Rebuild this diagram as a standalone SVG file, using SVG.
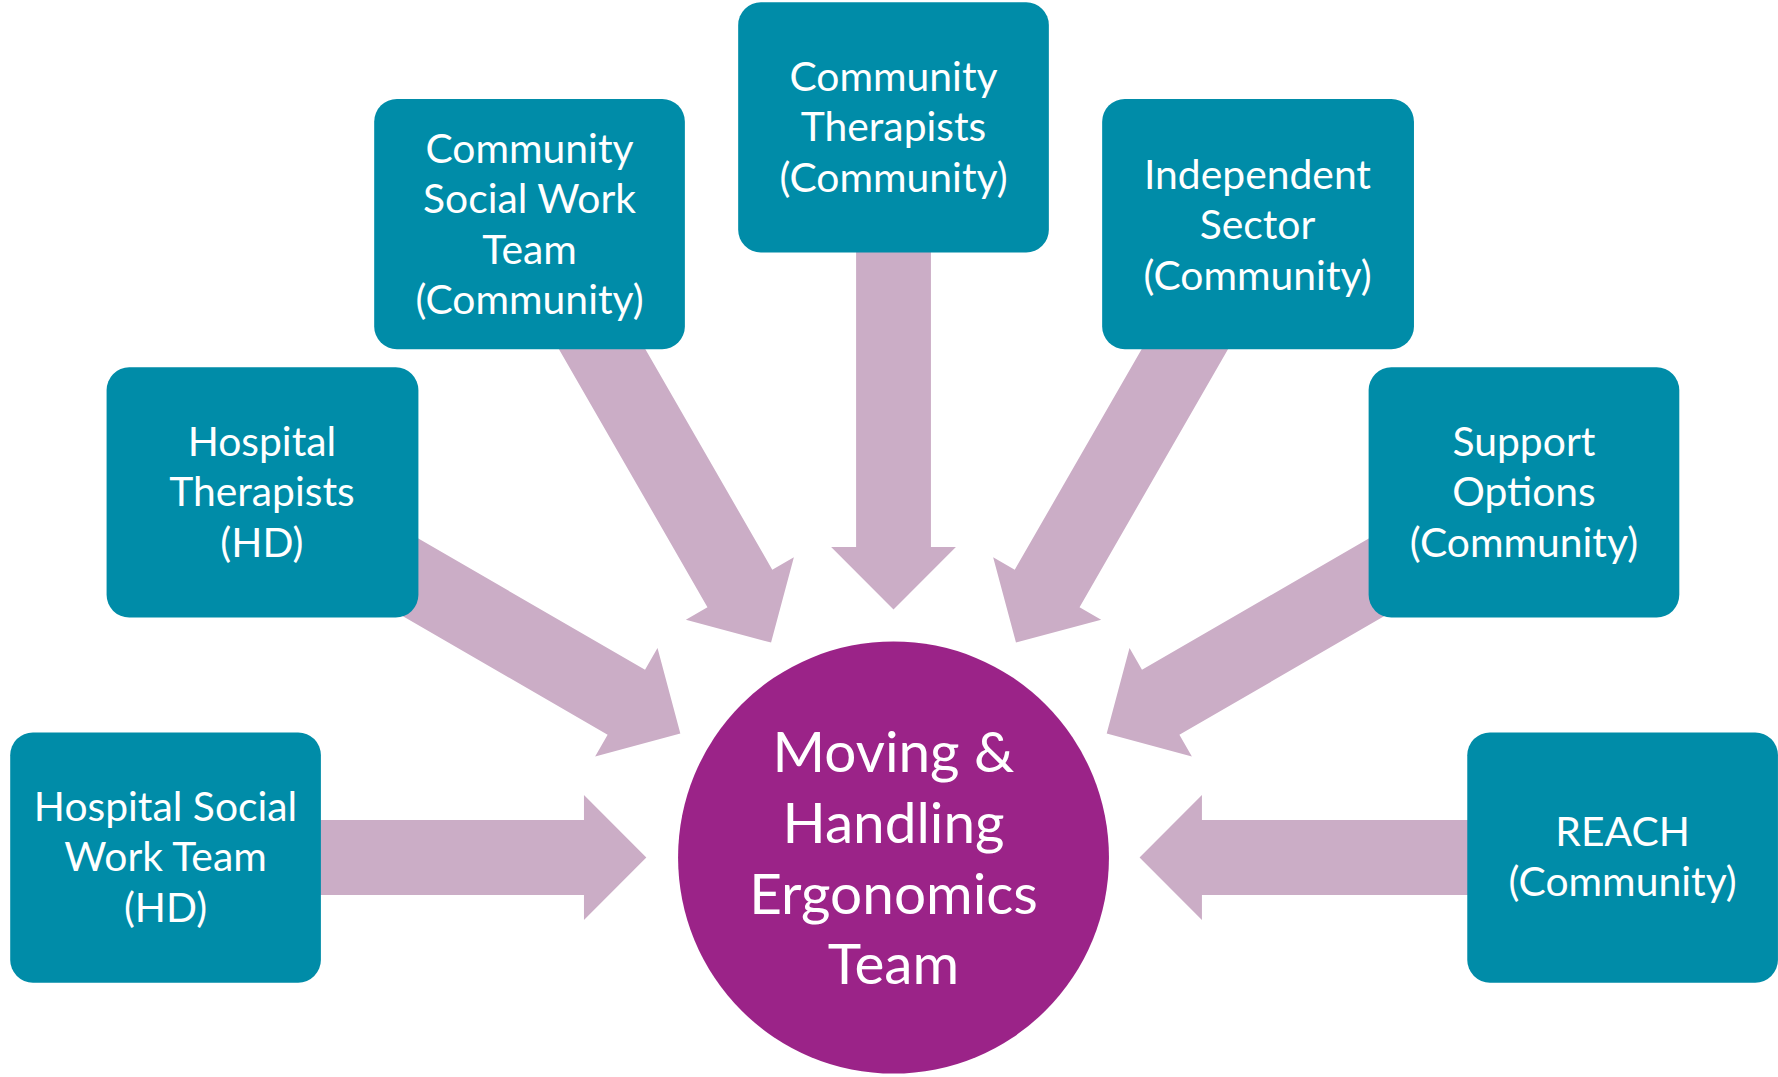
<svg xmlns="http://www.w3.org/2000/svg" width="1778" height="1077" viewBox="0 0 1778 1077">
<style>
.box{fill:#008CA8}
.arr{fill:#CBADC6}
.t{fill:#fff;font-family:Lato,"Open Sans",sans-serif;font-size:36px;text-anchor:middle;dominant-baseline:central}
.c{font-size:50px}
</style>
<defs>
<polygon id="a" points="-420,-33 -55,-33 -55,-55 0,0 -55,55 -55,33 -420,33"/>
</defs>
<rect width="1778" height="1077" fill="#fff"/>
<g transform="scale(1.1339,1.1373)">
<g id="connectors" class="arr">
<use href="#a" transform="translate(570,754)"/>
<use href="#a" transform="translate(1005,754) rotate(180)"/>
<use href="#a" transform="translate(788,536) rotate(90)"/>
<use href="#a" transform="translate(600,645) rotate(30)"/>
<use href="#a" transform="translate(680,565) rotate(60)"/>
<use href="#a" transform="translate(896,565) rotate(120)"/>
<use href="#a" transform="translate(976,645) rotate(150)"/>
</g>
<g id="hswt"><rect class="box" x="9" y="644" width="274" height="220" rx="20"/>
<text class="t" x="146"><tspan x="146" y="708">Hospital Social</tspan><tspan x="146" y="752">Work Team</tspan><tspan x="146" y="797">(HD)</tspan></text></g>
<g id="ht"><rect class="box" x="94" y="323" width="275" height="220" rx="20"/>
<text class="t"><tspan x="231" y="387">Hospital</tspan><tspan x="231" y="431">Therapists</tspan><tspan x="231" y="476">(HD)</tspan></text></g>
<g id="cswt"><rect class="box" x="330" y="87" width="274" height="220" rx="20"/>
<text class="t"><tspan x="467" y="129">Community</tspan><tspan x="467" y="173">Social Work</tspan><tspan x="467" y="218">Team</tspan><tspan x="467" y="262">(Community)</tspan></text></g>
<g id="ct"><rect class="box" x="651" y="2" width="274" height="220" rx="20"/>
<text class="t"><tspan x="788" y="66">Community</tspan><tspan x="788" y="110">Therapists</tspan><tspan x="788" y="155">(Community)</tspan></text></g>
<g id="is"><rect class="box" x="972" y="87" width="275" height="220" rx="20"/>
<text class="t"><tspan x="1109" y="152">Independent</tspan><tspan x="1109" y="196">Sector</tspan><tspan x="1109" y="241">(Community)</tspan></text></g>
<g id="so"><rect class="box" x="1207" y="323" width="274" height="220" rx="20"/>
<text class="t"><tspan x="1344" y="387">Support</tspan><tspan x="1344" y="431">Options</tspan><tspan x="1344" y="476">(Community)</tspan></text></g>
<g id="reach"><rect class="box" x="1294" y="644" width="274" height="220" rx="20"/>
<text class="t"><tspan x="1431" y="730">REACH</tspan><tspan x="1431" y="774">(Community)</tspan></text></g>
<g id="mhet"><circle cx="788" cy="754" r="190" fill="#9B2388"/>
<text class="t c"><tspan x="788" y="659">Moving &amp;</tspan><tspan x="788" y="722">Handling</tspan><tspan x="788" y="784">Ergonomics</tspan><tspan x="788" y="846">Team</tspan></text></g>
</g>
</svg>
